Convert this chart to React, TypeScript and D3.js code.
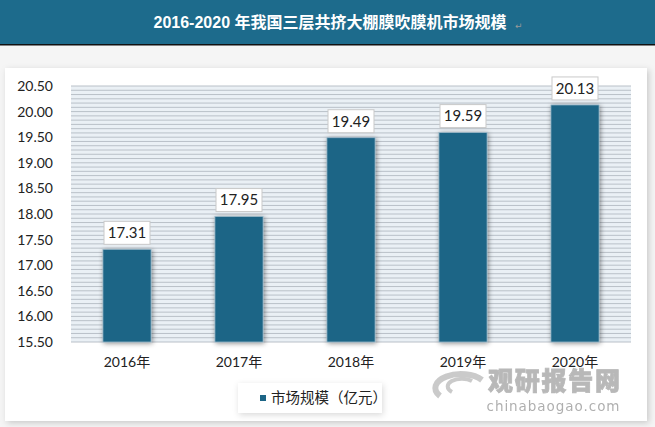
import React from "react";
import * as d3 from "d3";

const categories = ["2016年", "2017年", "2018年", "2019年", "2020年"];
const values = [17.31, 17.95, 19.49, 19.59, 20.13];
const yTicks = [15.5, 16.0, 16.5, 17.0, 17.5, 18.0, 18.5, 19.0, 19.5, 20.0, 20.5];
const title = "2016-2020 年我国三层共挤大棚膜吹膜机市场规模";
const seriesName = "市场规模（亿元）";

const W = 655;
const H = 427;
const M = { left: 71, right: 631, top: 86, bottom: 342 };
const BAR = "#1c6586";
const LATIN = "Lato, 'Noto Sans CJK SC', sans-serif";

export default function App() {
  const x = d3.scaleBand<string>().domain(categories).range([M.left, M.right]).paddingInner(0.57).paddingOuter(0.285);
  const y = d3.scaleLinear().domain([15.5, 20.5]).range([M.bottom, M.top]);
  const stripes = d3.range(0, 61).map((i) => 15.5 + i / 12);

  return (
    <svg width={W} height={H} style={{ position: "absolute", left: 0, top: 0, display: "block" }}>
      <defs>
        <filter id="panelShadow" x="-5%" y="-5%" width="110%" height="110%">
          <feDropShadow dx="2" dy="2" stdDeviation="3" floodColor="#000" floodOpacity="0.18" />
        </filter>
        <filter id="barShadow" x="-30%" y="-10%" width="160%" height="120%">
          <feDropShadow dx="1" dy="1" stdDeviation="2.5" floodColor="#000" floodOpacity="0.45" />
        </filter>
        <filter id="legShadow" x="-10%" y="-30%" width="120%" height="160%">
          <feDropShadow dx="1" dy="2" stdDeviation="3" floodColor="#000" floodOpacity="0.15" />
        </filter>
      </defs>
      <rect x={0} y={0} width={W} height={H} fill="#f5f5f5" />
      {/* title bar */}
      <rect x={0} y={0} width={W} height={44} fill="#1d6b8c" />
      <rect x={0} y={44} width={W} height={1.5} fill="#111" />
      <text x={330} y={28} textAnchor="middle" fill="#fff" fontSize={16} fontWeight="bold"
        fontFamily="'Liberation Sans', 'Noto Sans CJK SC', sans-serif">{title}</text>
      <text x={515} y={29} fill="#999" fontSize={9} fontFamily="'DejaVu Sans', sans-serif">↵</text>

      {/* panel */}
      <rect x={5} y={68} width={642} height={353} fill="#fff" filter="url(#panelShadow)" />

      {/* plot background with stripes */}
      <rect x={M.left} y={M.top} width={M.right - M.left} height={M.bottom - M.top} fill="#eaf0f5" />
      {stripes.map((v, i) => (
        <line key={i} x1={M.left} x2={M.right} y1={y(v)} y2={y(v)} stroke="#b9c0c8" strokeWidth={1} />
      ))}

      {/* y axis labels */}
      {yTicks.map((t) => (
        <text key={t} x={53} y={y(t)} dy="0.35em" textAnchor="end" fontSize={14} fill="#222" fontFamily={LATIN}>
          {t.toFixed(2)}
        </text>
      ))}

      {/* bars */}
      {values.map((v, i) => {
        const bx = x(categories[i])!;
        const bw = x.bandwidth();
        return (
          <rect key={i} x={bx} y={y(v)} width={bw} height={M.bottom - y(v)} fill={BAR} stroke="#9bb8c8" strokeWidth={0.8}
            filter="url(#barShadow)" />
        );
      })}
      {/* data labels */}
      {values.map((v, i) => {
        const cx = x(categories[i])! + x.bandwidth() / 2;
        const top = y(v) - 5;
        return (
          <g key={"l" + i}>
            <rect x={cx - 23} y={top - 23} width={46} height={23} fill="#fff" stroke="#c9c9c9" strokeWidth={1} />
            <text x={cx} y={top - 11.5} dy="0.36em" textAnchor="middle" fontSize={15} fill="#222" fontFamily={LATIN}>
              {v.toFixed(2)}
            </text>
          </g>
        );
      })}

      {/* x labels */}
      {categories.map((c) => (
        <text key={c} x={x(c)! + x.bandwidth() / 2} y={362} dy="0.35em" textAnchor="middle" fontSize={14} fill="#222"
          fontFamily={LATIN}>
          {c}
        </text>
      ))}

      {/* legend */}
      <rect x={238} y={383} width={144} height={30} fill="#fff" filter="url(#legShadow)" />
      <rect x={260} y={395} width={6} height={6} fill={BAR} />
      <text x={271} y={398} dy="0.35em" fontSize={14.5} fill="#222" fontFamily="'Noto Sans CJK SC', sans-serif">
        {seriesName}
      </text>

      {/* watermark */}
      <g opacity={0.6}>
        <path d="M 440 396 A 24 13 0 1 1 482 380" fill="none" stroke="#a8a8a8" strokeWidth={6} />
        <path d="M 452 392 A 13 7 0 1 1 472 381" fill="none" stroke="#a8a8a8" strokeWidth={4} />
        <text x={554} y={390} textAnchor="middle" fontSize={25} fontWeight={900} fill="#8a8a8a" stroke="#8a8a8a"
          strokeWidth={0.8} fontFamily="'Noto Sans CJK SC', sans-serif" textLength={132}>观研报告网</text>
        <text x={553} y={411} textAnchor="middle" fontSize={13.5} fill="#7a7a7a"
          fontFamily="'DejaVu Sans', sans-serif" textLength={133}>chinabaogao.com</text>
      </g>
    </svg>
  );
}
